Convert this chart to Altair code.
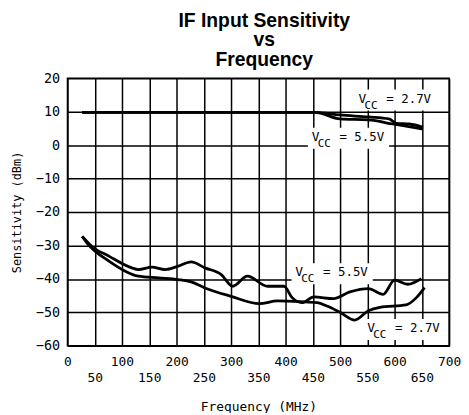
import altair as alt
import pandas as pd

title_lines = ["IF Input Sensitivity", "vs", "Frequency"]
x_ticks = [0, 50, 100, 150, 200, 250, 300, 350, 400, 450, 500, 550, 600, 650, 700]
y_ticks = [-60, -50, -40, -30, -20, -10, 0, 10, 20]

# upper pair (near 10 dBm)
up55_f = [27, 100, 200, 300, 400, 454, 500, 552, 597, 652]
up55_v = [9.8, 9.8, 9.8, 9.8, 9.8, 9.8, 7.8, 7.5, 6.3, 4.8]
up27_f = [27, 100, 200, 300, 400, 454, 500, 552, 590, 603, 627, 652]
up27_v = [9.8, 9.8, 9.8, 9.8, 9.8, 9.8, 9.0, 8.4, 7.8, 6.5, 6.3, 5.3]
# lower pair
lo55_f = [27, 45, 76, 118, 130, 155, 179, 203, 227, 252, 282, 303, 330, 367, 397,
          412, 430, 452, 488, 518, 552, 579, 600, 624, 649]
lo55_v = [-27.3, -30.3, -33.2, -36.7, -37.2, -36.5, -37.2, -36.2, -34.9, -36.7, -38.7,
          -42.2, -39.2, -42.2, -42.2, -45.6, -47.1, -45.4, -45.9, -43.9, -42.9, -44.6,
          -40.4, -41.6, -39.9]
lo27_f = [27, 36, 76, 130, 167, 203, 227, 252, 300, 352, 385, 427, 458, 476, 500,
          527, 552, 573, 621, 640, 655]
lo27_v = [-27.3, -29.3, -34.7, -39.2, -39.7, -40.2, -40.9, -42.7, -45.2, -47.4, -46.6,
          -46.8, -47.1, -48.1, -50.0, -52.3, -49.5, -48.5, -47.8, -45.6, -42.6]

# annotation anchors (data units)
lab_f = [534, 448, 418, 550]
lab_v = [12.7, 1.3, -39.2, -55.9]
lab_val = ["= 2.7V", "= 5.5V", "= 5.5V", "= 2.7V"]

rows = []
for name, fs, vs in [("u55", up55_f, up55_v), ("u27", up27_f, up27_v),
                     ("l55", lo55_f, lo55_v), ("l27", lo27_f, lo27_v)]:
    for f, v in zip(fs, vs):
        rows.append({"series": name, "f": f, "v": v})
curves = pd.DataFrame(rows)
labels = pd.DataFrame({"f": lab_f, "v": lab_v, "val": lab_val})

xscale = alt.Scale(domain=[0, 700], nice=False, zero=False)
yscale = alt.Scale(domain=[-60, 20], nice=False, zero=False)
mono = "DejaVu Sans Mono"

xaxis = alt.Axis(
    values=x_ticks, title="Frequency (MHz)", grid=True, gridColor="black",
    gridWidth=1.5, gridOpacity=1, ticks=False, domain=False,
    labelPadding={"condition": {"test": "datum.value % 100 != 0", "value": 26},
                  "value": 10},
    labelFont=mono, labelFontSize=13, labelColor="black",
    labelFlush=False, labelOverlap=False,
    titleFont=mono, titleFontSize=13, titleFontWeight="normal", titleColor="black",
    titlePadding=16,
)
yaxis = alt.Axis(
    values=y_ticks, title="Sensitivity (dBm)", grid=True, gridColor="black",
    gridWidth=1.5, gridOpacity=1, ticks=False, domain=False,
    labelFont=mono, labelFontSize=13.5, labelColor="black", labelPadding=8,
    titleFont=mono, titleFontSize=12, titleFontWeight="normal", titleColor="black",
    titlePadding=12,
)

lines = alt.Chart(curves).mark_line(color="black", strokeWidth=2.8,
                                    interpolate="monotone").encode(detail="series:N")

lab = alt.Chart(labels)
boxes = lab.transform_calculate(
    f2="datum.f + 142", v2="datum.v - 2.4"
).transform_calculate(
    f="datum.f - 7", v="datum.v + 3.9"
).mark_rect(color="white").encode(x2="f2:Q", y2="v2:Q")
txt_v = lab.mark_text(text="V", align="left", baseline="alphabetic", font=mono,
                      fontSize=13, color="black")
txt_cc = lab.mark_text(text="CC", align="left", baseline="alphabetic", font=mono,
                       fontSize=11, color="black", dx=6, dy=6)
txt_val = lab.mark_text(align="left", baseline="alphabetic", font=mono,
                        fontSize=12.5, color="black", dx=28).encode(text="val:N")

chart = alt.layer(boxes, lines, txt_v, txt_cc, txt_val).encode(
    x=alt.X("f:Q", scale=xscale, axis=xaxis),
    y=alt.Y("v:Q", scale=yscale, axis=yaxis),
).properties(
    width=385, height=270,
    title=alt.TitleParams(text=title_lines, font="Liberation Sans", fontSize=19.5,
                          fontWeight="bold", lineHeight=19.5, anchor="middle",
                          frame="group", offset=1, dx=6, color="black"),
    autosize=alt.AutoSizeParams(type="none"),
    padding={"left": 60, "top": 69, "right": 12, "bottom": 66},
    background="white",
).configure_view(stroke="black", strokeWidth=1.5)

chart.save("out.html", embed_options={"renderer": "svg", "actions": False})
